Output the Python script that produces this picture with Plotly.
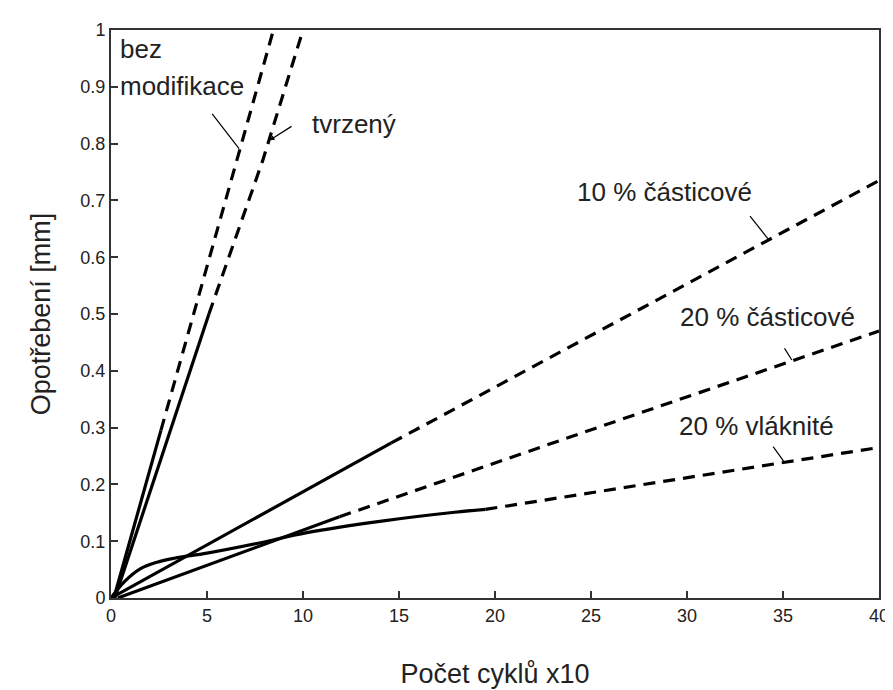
import plotly.graph_objects as go

# ---- data ----
bez_solid_x = [0.15, 1.2, 2.6]
bez_solid_y = [0.0, 0.126, 0.295]
bez_dash_x = [2.6, 6.4, 8.46]
bez_dash_y = [0.295, 0.752, 1.0]

tvr_solid_x = [0.2, 2.6, 5.1]
tvr_solid_y = [0.0, 0.245, 0.5]
tvr_dash_x = [5.1, 7.9, 10.0]
tvr_dash_y = [0.5, 0.77, 1.0]

c10_solid_x = [0.0, 10.2, 14.6]
c10_solid_y = [0.0, 0.19, 0.273]
c10_dash_x = [14.6, 40.0]
c10_dash_y = [0.273, 0.735]

c20_solid_x = [0.35, 10.2, 11.9]
c20_solid_y = [0.0, 0.121, 0.143]
c20_dash_x = [11.9, 24.3, 40.0]
c20_dash_y = [0.143, 0.288, 0.47]

vl_solid_x = [0.0, 0.3, 0.7, 1.5, 2.4, 3.3, 5.0, 7.6, 10.2, 14.0, 17.9, 19.5]
vl_solid_y = [0.0, 0.013, 0.029, 0.051, 0.063, 0.07, 0.079, 0.096, 0.115, 0.135, 0.151, 0.156]
vl_dash_x = [19.5, 35.1, 40.0]
vl_dash_y = [0.156, 0.24, 0.265]

x_ticks = [0, 5, 10, 15, 20, 25, 30, 35, 40]
y_ticks = [0, 0.1, 0.2, 0.3, 0.4, 0.5, 0.6, 0.7, 0.8, 0.9, 1]
y_tick_text = ["0", "0.1", "0.2", "0.3", "0.4", "0.5", "0.6", "0.7", "0.8", "0.9", "1"]

FONT = "Liberation Sans, Arial, sans-serif"
LW = 3.2
DASH = "12px,8px"

fig = go.Figure()

def add(x, y, dash=None, shape="linear"):
    fig.add_trace(go.Scatter(
        x=x, y=y, mode="lines",
        line=dict(color="black", width=LW, dash=dash or "solid", shape=shape),
        showlegend=False, hoverinfo="skip"))

add(bez_solid_x, bez_solid_y)
add(bez_dash_x, bez_dash_y, DASH)
add(tvr_solid_x, tvr_solid_y)
add(tvr_dash_x, tvr_dash_y, DASH)
add(c10_solid_x, c10_solid_y)
add(c10_dash_x, c10_dash_y, DASH)
add(c20_solid_x, c20_solid_y)
add(c20_dash_x, c20_dash_y, DASH)
add(vl_solid_x, vl_solid_y, shape="spline")
add(vl_dash_x, vl_dash_y, DASH)

labels = [
    dict(text="bez", x=0.36, y=0.967, xanchor="left"),
    dict(text="modifikace", x=0.36, y=0.902, xanchor="left"),
    dict(text="tvrzený", x=12.65, y=0.834, xanchor="center"),
    dict(text="10 % částicové", x=28.84, y=0.7155, xanchor="center"),
    dict(text="20 % částicové", x=34.19, y=0.494, xanchor="center"),
    dict(text="20 % vláknité", x=33.6, y=0.302, xanchor="center"),
]
for lb in labels:
    fig.add_annotation(x=lb["x"], y=lb["y"], xref="x", yref="y", text=lb["text"],
                       showarrow=False, xanchor=lb["xanchor"], yanchor="middle",
                       font=dict(family=FONT, size=26, color="#222"))

pointers = [
    # (tail x, tail y, head x, head y, arrowhead)
    (5.21, 0.855, 6.67, 0.791, 0),
    (9.48, 0.832, 8.27, 0.806, 2),
    (33.22, 0.675, 34.25, 0.631, 0),
    (35.03, 0.442, 35.46, 0.419, 0),
    (34.43, 0.269, 35.03, 0.241, 0),
]
for tx, ty, hx, hy, ah in pointers:
    fig.add_annotation(x=hx, y=hy, ax=tx, ay=ty, xref="x", yref="y",
                       axref="x", ayref="y", text="", showarrow=True,
                       arrowhead=ah, arrowsize=0.8, arrowwidth=1.2,
                       arrowcolor="black")

fig.update_layout(
    width=893, height=690,
    margin=dict(l=103, r=15, t=17, b=100),
    paper_bgcolor="white", plot_bgcolor="white",
    font=dict(family=FONT, color="#222"),
    xaxis=dict(range=[0, 40], tickvals=x_ticks, ticks="inside", ticklen=7,
               tickcolor="#333", tickwidth=1.5,
               showline=True, linecolor="#333", linewidth=2, mirror=True,
               showgrid=False, zeroline=False,
               tickfont=dict(family=FONT, size=18, color="#222"),
               title=dict(text="Počet cyklů x10", standoff=40,
                          font=dict(family=FONT, size=27, color="#222"))),
    yaxis=dict(range=[0, 1], tickvals=y_ticks, ticktext=y_tick_text,
               ticks="inside", ticklen=7, tickcolor="#333", tickwidth=1.5,
               showline=True, linecolor="#333", linewidth=2, mirror=True,
               showgrid=False, zeroline=False,
               tickfont=dict(family=FONT, size=18, color="#222"),
               title=dict(text="Opotřebení [mm]", standoff=22,
                          font=dict(family=FONT, size=27, color="#222"))),
)

fig.write_html("out.html")
